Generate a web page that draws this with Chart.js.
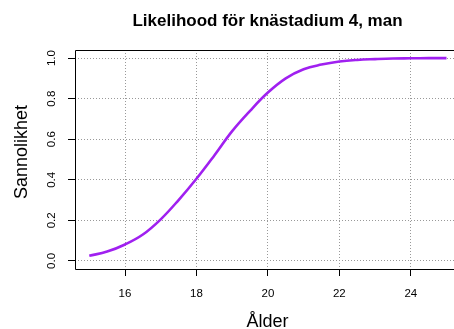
<!DOCTYPE html>
<html>
<head>
<meta charset="utf-8">
<title>Likelihood för knästadium 4, man</title>
<script src="https://cdn.jsdelivr.net/npm/chart.js@4.4.1/dist/chart.umd.min.js"></script>
<style>
  html, body { margin: 0; padding: 0; background: #fff; }
  #wrap { width: 454px; height: 329px; }
</style>
</head>
<body>
<div id="wrap"><canvas id="likelihoodChart" width="454" height="329"></canvas></div>
<script>
// Age (years) and probability of knee stage 4, men
const ages = [15, 15.5, 16, 16.5, 17, 17.5, 18, 18.5, 19, 19.5, 20, 20.5, 21, 21.5, 22, 22.5, 23, 23.5, 24, 24.5, 25]
const probs = [0.025, 0.046, 0.081, 0.13, 0.205, 0.30, 0.405, 0.52, 0.64, 0.74, 0.83, 0.90, 0.945, 0.968, 0.983, 0.991, 0.995, 0.998, 0.999, 1.0, 1.0]

const xTicks = [16, 18, 20, 22, 24]
const yTicks = [0, 0.2, 0.4, 0.6, 0.8, 1.0]

const titleText = "Likelihood för knästadium 4, man"
const xTitle = "Ålder"
const yTitle = "Sannolikhet"

const FONT = "'Liberation Sans', Arial, Helvetica, sans-serif"

// Box, rotated y labels and titles, drawn base-graphics style
const framePlugin = {
  id: "frame",
  afterDraw(chart) {
    const { ctx, chartArea } = chart
    const xs = chart.scales.x
    const ys = chart.scales.y
    const l = Math.round(chartArea.left) + 0.5
    const t = Math.round(chartArea.top) + 0.5
    const b = Math.round(chartArea.bottom) + 0.5
    const r = chartArea.right

    ctx.save()
    ctx.strokeStyle = "#000"
    ctx.lineWidth = 1
    ctx.beginPath()
    ctx.moveTo(r, t)
    ctx.lineTo(l, t)
    ctx.lineTo(l, b)
    ctx.lineTo(r, b)
    ctx.stroke()

    ctx.fillStyle = "#000"

    // x tick labels
    ctx.font = "11.5px " + FONT
    ctx.textAlign = "center"
    ctx.textBaseline = "alphabetic"
    xTicks.forEach((v) => ctx.fillText(String(v), xs.getPixelForValue(v), 297))

    // y tick labels, rotated
    yTicks.forEach((v) => {
      ctx.save()
      ctx.translate(55, ys.getPixelForValue(v))
      ctx.rotate(-Math.PI / 2)
      ctx.fillText(v.toFixed(1), 0, 0)
      ctx.restore()
    })

    // main title
    ctx.font = "bold 17px " + FONT
    ctx.fillText(titleText, 267.5, 26)

    // axis titles
    ctx.font = "18px " + FONT
    ctx.fillText(xTitle, 267.5, 327)
    ctx.save()
    ctx.translate(27, 152)
    ctx.rotate(-Math.PI / 2)
    ctx.fillText(yTitle, 0, 0)
    ctx.restore()
    ctx.restore()
  },
}

const ctx = document.getElementById("likelihoodChart").getContext("2d")

new Chart(ctx, {
  type: "line",
  data: {
    datasets: [
      {
        data: ages.map((a, i) => ({ x: a, y: probs[i] })),
        borderColor: "#a020f0",
        borderWidth: 2.6,
        pointRadius: 0,
        tension: 0.4,
        fill: false,
      },
    ],
  },
  options: {
    responsive: false,
    animation: false,
    events: [],
    layout: { padding: { top: 50, left: 0, right: 0, bottom: 0 } },
    plugins: {
      legend: { display: false },
      title: { display: false },
      tooltip: { enabled: false },
    },
    scales: {
      x: {
        type: "linear",
        min: 14.6,
        max: 25.21,
        afterBuildTicks: (scale) => {
          scale.ticks = xTicks.map((v) => ({ value: v }))
        },
        afterFit: (scale) => {
          scale.height = 60
        },
        ticks: { display: false },
        border: { display: false, dash: [1, 2] },
        grid: {
          color: "#999",
          lineWidth: 1,
          drawTicks: true,
          tickLength: 7,
          tickColor: "#000",
          tickWidth: 1,
          tickBorderDash: [],
        },
      },
      y: {
        type: "linear",
        min: -0.04,
        max: 1.04,
        afterBuildTicks: (scale) => {
          scale.ticks = yTicks.map((v) => ({ value: v }))
        },
        afterFit: (scale) => {
          scale.width = 75
        },
        ticks: { display: false },
        border: { display: false, dash: [1, 2] },
        grid: {
          color: "#999",
          lineWidth: 1,
          drawTicks: true,
          tickLength: 7,
          tickColor: "#000",
          tickWidth: 1,
          tickBorderDash: [],
        },
      },
    },
  },
  plugins: [framePlugin],
})
</script>
</body>
</html>
